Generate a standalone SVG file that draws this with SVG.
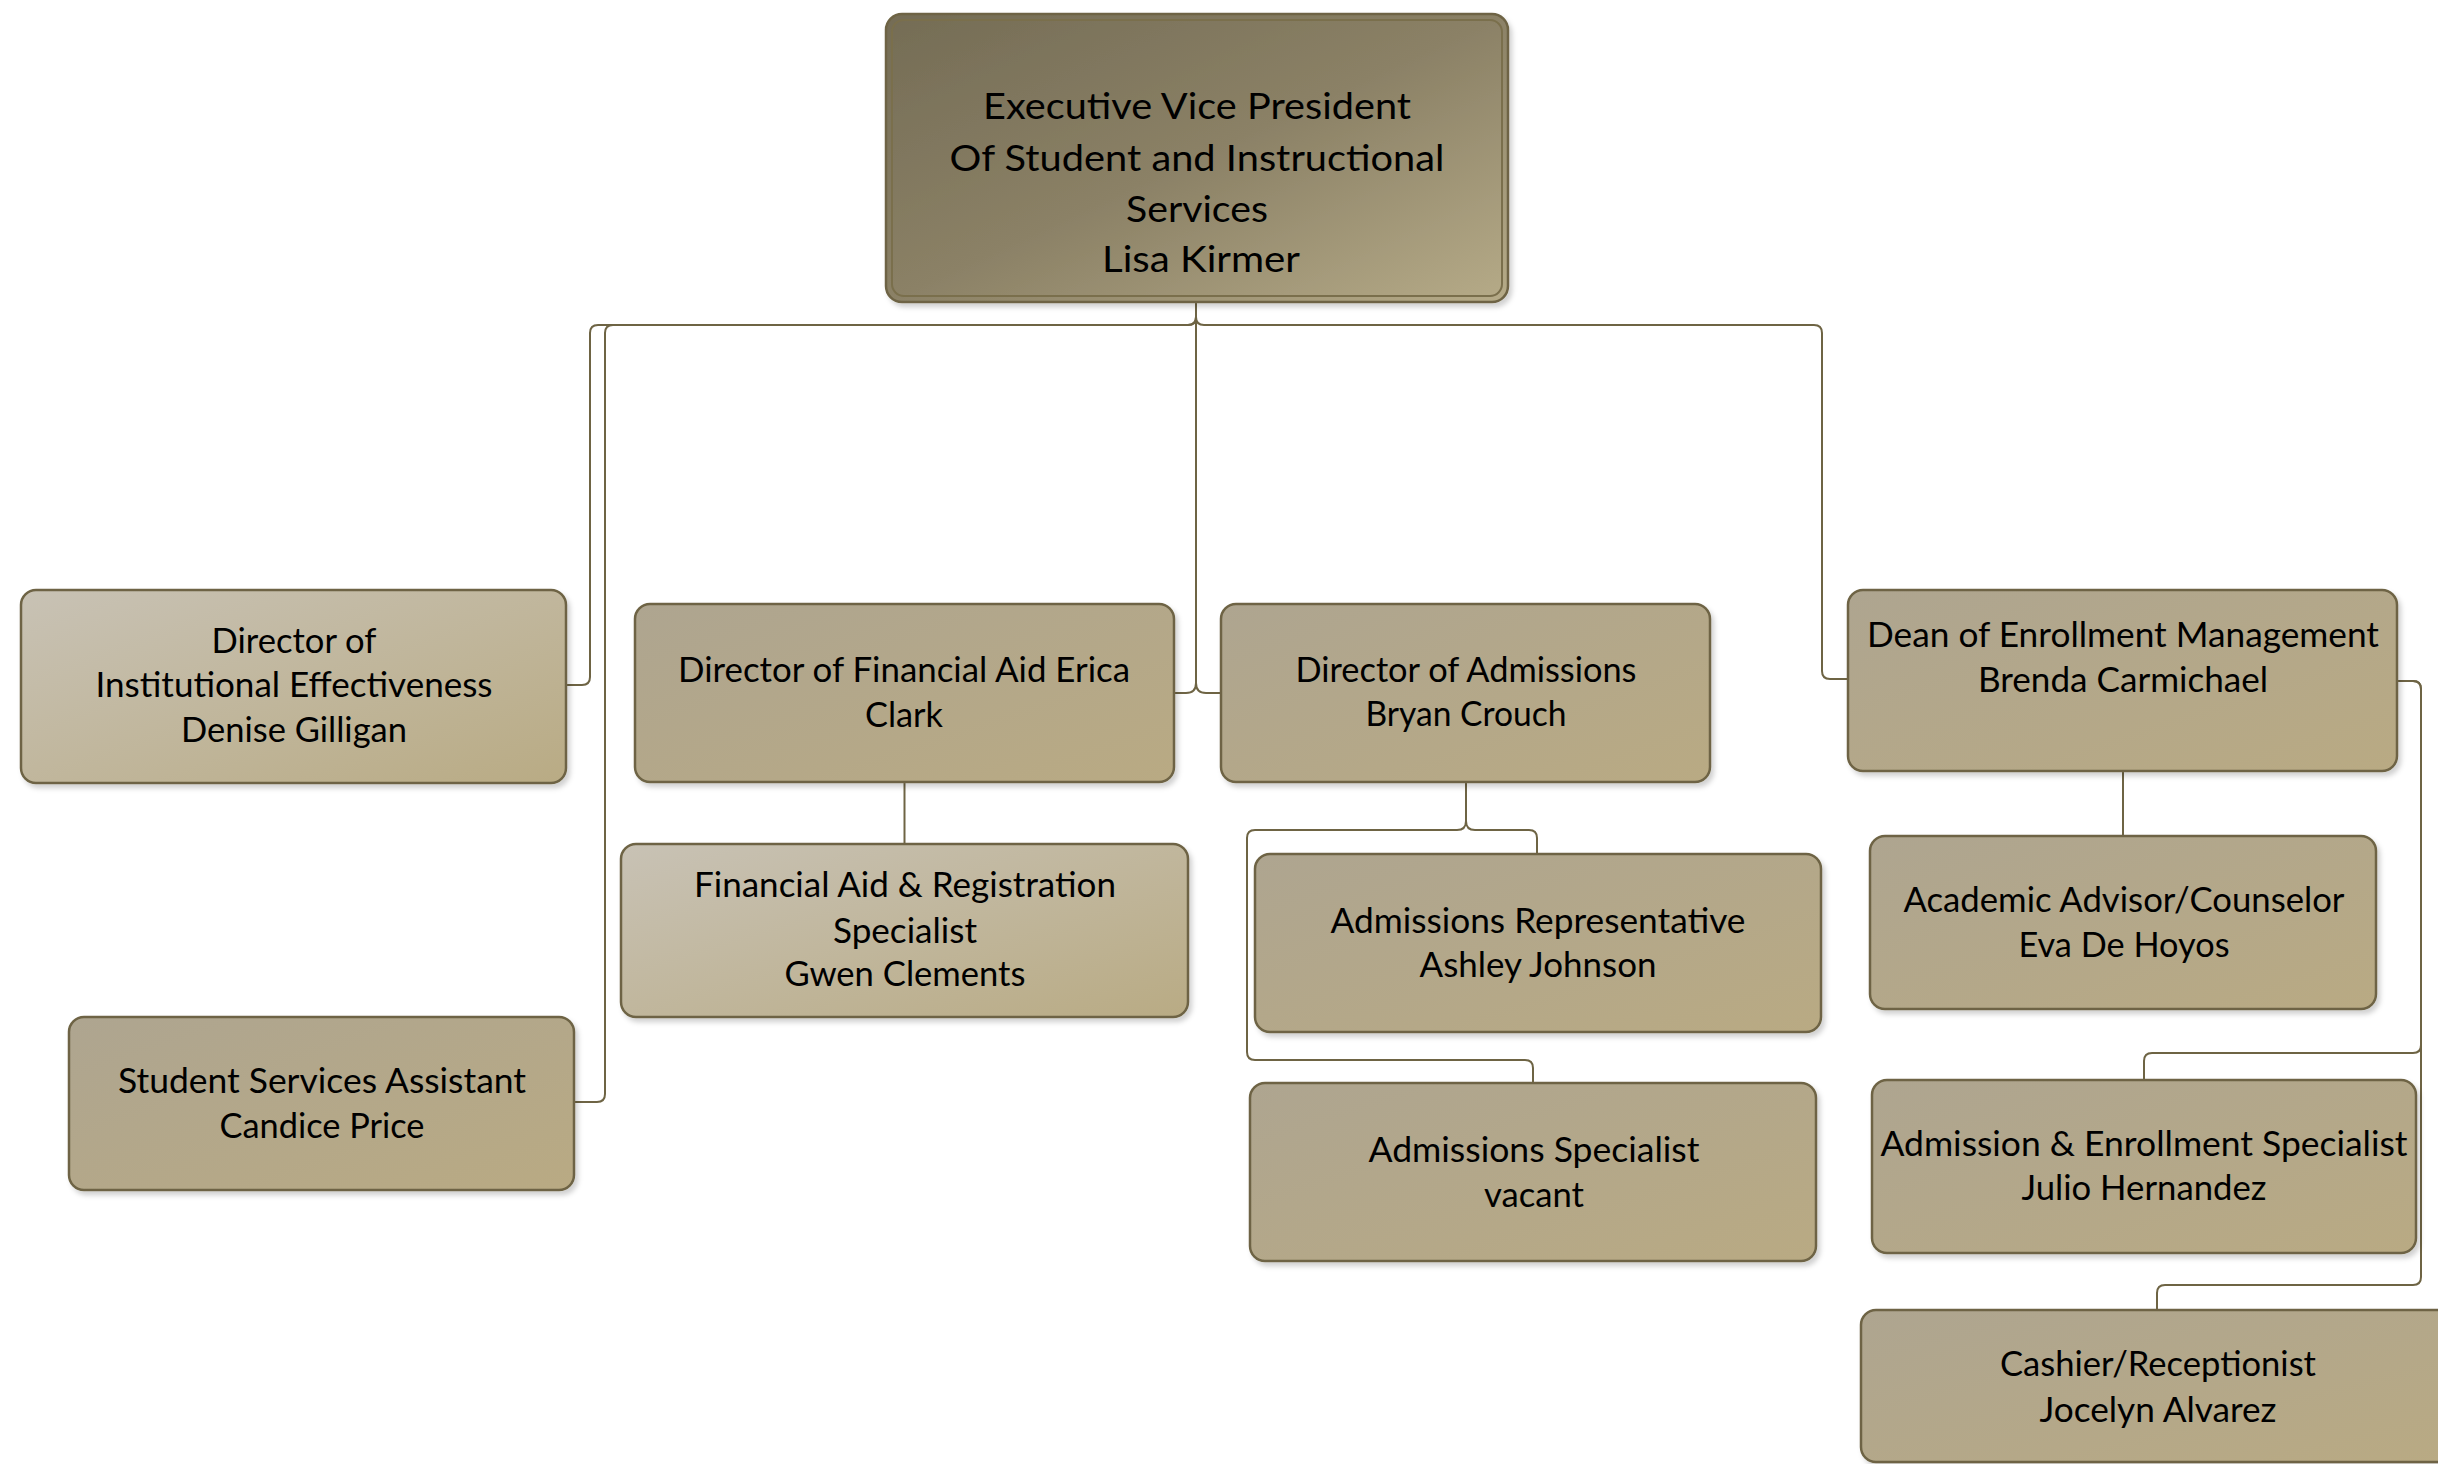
<svg xmlns="http://www.w3.org/2000/svg" width="2438" height="1464" viewBox="0 0 2438 1464">
<defs>
<linearGradient id="gTop" x1="0" y1="0" x2="1" y2="1"><stop offset="0" stop-color="#746c55"/><stop offset="0.5" stop-color="#8b8166"/><stop offset="1" stop-color="#b6ab88"/></linearGradient>
<linearGradient id="gMed" x1="0" y1="0" x2="1" y2="1"><stop offset="0" stop-color="#aea590"/><stop offset="1" stop-color="#b9aa83"/></linearGradient>
<linearGradient id="gLight" x1="0" y1="0" x2="1" y2="1"><stop offset="0" stop-color="#c8c2b5"/><stop offset="1" stop-color="#b9ab84"/></linearGradient>
<filter id="sh" x="-5%" y="-5%" width="115%" height="120%"><feDropShadow dx="3" dy="4" stdDeviation="2.5" flood-color="#000" flood-opacity="0.18"/></filter>
</defs>
<style>
.box{stroke:#6e6444;stroke-width:2.5;filter:url(#sh)}
.med{fill:url(#gMed)}
.light{fill:url(#gLight)}
.top{fill:url(#gTop)}
.inner{fill:none;stroke:#7a6f4c;stroke-width:2}
.t{font-family:Lato,"Open Sans","Liberation Sans",sans-serif;font-size:34px;fill:#000;text-anchor:middle}
.tt{font-size:37px}
.conn path{fill:none;stroke:#6e6444;stroke-width:2}
</style>
<rect width="2438" height="1464" fill="#fff"/>
<g class="conn">
<path d="M1196,302 V317 Q1196,325 1188,325 H598 Q590,325 590,333 V677 Q590,685 582,685 H566"/>
<path d="M1196,302 V317 Q1196,325 1188,325 H613 Q605,325 605,333 V1094 Q605,1102 597,1102 H574"/>
<path d="M1196,302 V683 Q1196,693 1186,693 H1174"/>
<path d="M1196,302 V683 Q1196,693 1206,693 H1221"/>
<path d="M1196,302 V317 Q1196,325 1204,325 H1814 Q1822,325 1822,333 V671 Q1822,679 1830,679 H1848"/>
<path d="M904.5,782 V844"/>
<path d="M1466,782 V821 Q1466,830 1475,830 H1529 Q1537,830 1537,838 V854"/>
<path d="M1466,782 V821 Q1466,830 1457,830 H1255 Q1247,830 1247,838 V1052 Q1247,1060 1255,1060 H1525 Q1533,1060 1533,1068 V1083"/>
<path d="M2123,771 V836"/>
<path d="M2397,681 H2413 Q2421,681 2421,689 V1045 Q2421,1053 2413,1053 H2152 Q2144,1053 2144,1061 V1080"/>
<path d="M2397,681 H2413 Q2421,681 2421,689 V1277 Q2421,1285 2413,1285 H2165 Q2157,1285 2157,1293 V1310"/>
</g>
<g id="evp">
<rect class="box top" x="886" y="14" width="622" height="288" rx="16"/>
<rect class="inner" x="892" y="20" width="610" height="276" rx="12"/>
<text class="t tt" x="1197" y="119" textLength="428" lengthAdjust="spacingAndGlyphs">Executive Vice President</text>
<text class="t tt" x="1197" y="171" textLength="495" lengthAdjust="spacingAndGlyphs">Of Student and Instructional</text>
<text class="t tt" x="1197" y="222" textLength="142" lengthAdjust="spacingAndGlyphs">Services</text>
<text class="t tt" x="1201" y="272" textLength="198" lengthAdjust="spacingAndGlyphs">Lisa Kirmer</text>
</g>
<g id="ie">
<rect class="box light" x="21" y="590" width="545" height="193" rx="15"/>
<text class="t" x="294" y="653" textLength="165" lengthAdjust="spacingAndGlyphs">Director of</text>
<text class="t" x="294" y="697" textLength="397" lengthAdjust="spacingAndGlyphs">Institutional Effectiveness</text>
<text class="t" x="294" y="742" textLength="226" lengthAdjust="spacingAndGlyphs">Denise Gilligan</text>
</g>
<g id="ssa">
<rect class="box med" x="69" y="1017" width="505" height="173" rx="15"/>
<text class="t" x="322" y="1093" textLength="408" lengthAdjust="spacingAndGlyphs">Student Services Assistant</text>
<text class="t" x="322" y="1138" textLength="205" lengthAdjust="spacingAndGlyphs">Candice Price</text>
</g>
<g id="finaid">
<rect class="box med" x="635" y="604" width="539" height="178" rx="15"/>
<text class="t" x="904" y="682" textLength="452" lengthAdjust="spacingAndGlyphs">Director of Financial Aid Erica</text>
<text class="t" x="904" y="727" textLength="78" lengthAdjust="spacingAndGlyphs">Clark</text>
</g>
<g id="finreg">
<rect class="box light" x="621" y="844" width="567" height="173" rx="15"/>
<text class="t" x="905" y="897" textLength="422" lengthAdjust="spacingAndGlyphs">Financial Aid &amp; Registration</text>
<text class="t" x="905" y="943" textLength="144" lengthAdjust="spacingAndGlyphs">Specialist</text>
<text class="t" x="905" y="986" textLength="241" lengthAdjust="spacingAndGlyphs">Gwen Clements</text>
</g>
<g id="adm">
<rect class="box med" x="1221" y="604" width="489" height="178" rx="15"/>
<text class="t" x="1466" y="682" textLength="341" lengthAdjust="spacingAndGlyphs">Director of Admissions</text>
<text class="t" x="1466" y="726" textLength="201" lengthAdjust="spacingAndGlyphs">Bryan Crouch</text>
</g>
<g id="admrep">
<rect class="box med" x="1255" y="854" width="566" height="178" rx="15"/>
<text class="t" x="1538" y="933" textLength="415" lengthAdjust="spacingAndGlyphs">Admissions Representative</text>
<text class="t" x="1538" y="977" textLength="237" lengthAdjust="spacingAndGlyphs">Ashley Johnson</text>
</g>
<g id="admspec">
<rect class="box med" x="1250" y="1083" width="566" height="178" rx="15"/>
<text class="t" x="1534" y="1162" textLength="331" lengthAdjust="spacingAndGlyphs">Admissions Specialist</text>
<text class="t" x="1534" y="1207" textLength="100" lengthAdjust="spacingAndGlyphs">vacant</text>
</g>
<g id="dean">
<rect class="box med" x="1848" y="590" width="549" height="181" rx="15"/>
<text class="t" x="2123" y="647" textLength="512" lengthAdjust="spacingAndGlyphs">Dean of Enrollment Management</text>
<text class="t" x="2123" y="692" textLength="290" lengthAdjust="spacingAndGlyphs">Brenda Carmichael</text>
</g>
<g id="acad">
<rect class="box med" x="1870" y="836" width="506" height="173" rx="15"/>
<text class="t" x="2124" y="912" textLength="441" lengthAdjust="spacingAndGlyphs">Academic Advisor/Counselor</text>
<text class="t" x="2124" y="957" textLength="211" lengthAdjust="spacingAndGlyphs">Eva De Hoyos</text>
</g>
<g id="aes">
<rect class="box med" x="1872" y="1080" width="544" height="173" rx="15"/>
<text class="t" x="2144" y="1156" textLength="527" lengthAdjust="spacingAndGlyphs">Admission &amp; Enrollment Specialist</text>
<text class="t" x="2144" y="1200" textLength="245" lengthAdjust="spacingAndGlyphs">Julio Hernandez</text>
</g>
<g id="cashier">
<rect class="box med" x="1861" y="1310" width="596" height="152" rx="15"/>
<text class="t" x="2158" y="1376" textLength="316" lengthAdjust="spacingAndGlyphs">Cashier/Receptionist</text>
<text class="t" x="2158" y="1422" textLength="237" lengthAdjust="spacingAndGlyphs">Jocelyn Alvarez</text>
</g>
</svg>
